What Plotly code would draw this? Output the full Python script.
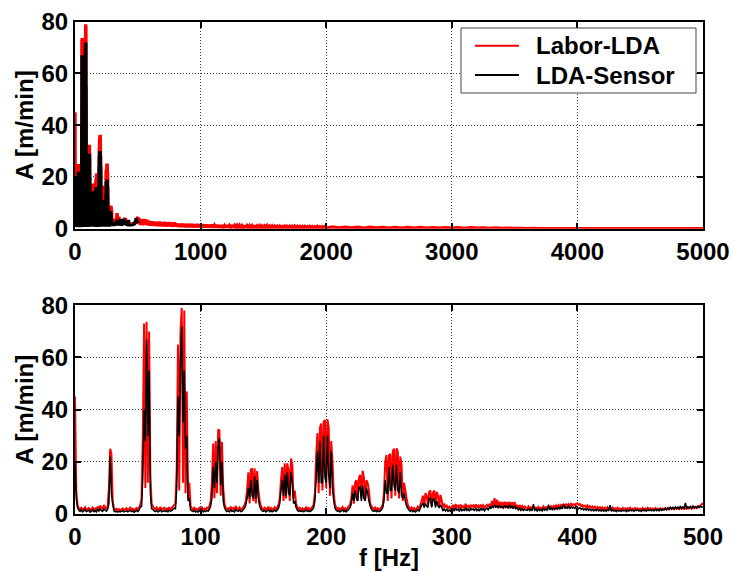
import numpy as np
import plotly.graph_objects as go

# Amplitude spectra, 1 Hz bins from 0 to 500 Hz
labor_lda_0_500 = [
    45, 9, 3.5, 2.2, 1.8, 2.4, 1.6, 2.0, 2.6, 1.5, 1.9, 2.3, 1.4, 1.8, 2.5, 1.7, 2.1, 1.5, 2.8, 2.0,
    3.2, 2.4, 1.8, 3.4, 2.6, 1.9, 3.0, 10, 25, 23, 5, 2.2, 1.6, 2.0, 1.5, 1.9, 1.4, 1.7, 2.1, 1.5,
    1.8, 2.2, 1.5, 1.9, 2.4, 1.6, 2.0, 1.4, 1.8, 2.3, 1.7, 2.5, 3.5, 6, 30, 73, 10, 73.7, 12, 70,
    15, 4, 3, 2.2, 1.8, 2.5, 1.6, 2.0, 2.7, 1.5, 1.9, 2.4, 1.7, 2.1, 1.5, 2.6, 1.8, 2.2, 2.9, 3.5,
    4, 18, 65, 9, 70, 79, 12, 78, 8, 47, 6, 12, 3, 2.2, 1.7, 2.4, 1.6, 2.0, 1.5, 2.3,
    1.8, 2.5, 1.6, 2.1, 1.7, 2.4, 2.0, 3, 5, 12, 27, 6, 28, 8, 32.4, 32, 7, 27.7, 10, 4,
    2.4, 1.7, 2.2, 1.5, 2.8, 1.9, 2.3, 1.6, 3.0, 2.1, 1.8, 2.5, 1.6, 2.0, 2.7, 3.5, 5, 9, 16, 4,
    17, 17.5, 5, 17.5, 4, 16.5, 9, 5, 3, 2.2, 1.8, 2.4, 1.6, 2.1, 2.8, 1.7, 2.3, 1.5, 2.0, 2.6,
    1.9, 2.5, 3.5, 6, 13, 18, 5, 19.4, 6, 19.4, 17, 5, 21.3, 19, 6, 9, 4, 2.6, 1.9, 2.4,
    1.7, 2.2, 1.5, 2.0, 2.6, 1.8, 2.3, 1.6, 2.1, 2.8, 3.5, 8, 22, 31, 8, 33, 34.7, 9, 35.4, 36,
    10, 36.3, 33, 7, 28, 20, 8, 3.5, 2.4, 1.8, 2.3, 1.6, 2.1, 2.7, 1.7, 2.2, 1.5, 2.4, 3.0, 3.6,
    6, 11, 4, 12, 13, 5, 13.7, 15, 6, 16.6, 14, 5, 13, 12, 9, 4, 3, 2.3, 1.8, 2.5,
    1.7, 2.2, 1.6, 2.0, 2.6, 3.5, 8, 20, 22.6, 5, 22.5, 23, 6, 24, 25, 7, 25.2, 23.9, 6, 22,
    18.8, 5, 12, 9, 6, 3.5, 2.4, 1.9, 2.5, 1.7, 2.3, 1.6, 2.1, 2.8, 2.0, 3.5, 5, 7, 3, 8,
    7, 3.5, 8.5, 9, 3, 8, 9, 3.5, 8.5, 7, 3, 7.3, 5, 2.5, 4, 2.5, 3.2, 2.2, 2.8, 2.0,
    2.6, 3.4, 2.2, 3.8, 2.7, 3.2, 2.1, 3.6, 2.5, 3.0, 2.3, 3.9, 2.6, 3.1, 2.2, 3.5, 2.8, 3.3, 2.4, 3.7,
    2.5, 3.2, 2.3, 3.6, 2.7, 3.4, 2.4, 3.0, 3.5, 2.8, 3.9, 2.2, 5.0, 2.5, 6.1, 2.6, 5.5, 2.4, 4.7, 2.3,
    4.6, 2.2, 4.7, 2.4, 4.6, 2.1, 4.7, 2.3, 4.5, 2.0, 4.6, 2.2, 3.2, 2.6, 3.4, 2.4, 3.1, 2.2, 2.9, 2.5,
    2.2, 2.9, 2.0, 2.6, 1.9, 2.8, 2.1, 2.5, 1.8, 2.7, 2.0, 2.4, 1.9, 2.9, 2.2, 2.6, 2.0, 2.8, 2.3, 3.0,
    2.4, 3.1, 2.5, 3.3, 2.6, 3.4, 2.7, 3.5, 2.9, 3.6, 3.0, 3.7, 3.2, 3.8, 3.1, 3.9, 3.3, 3.7, 3.4, 4.0,
    4.1, 3.5, 3.8, 3.0, 3.4, 2.8, 3.2, 2.6, 3.3, 2.5, 3.0, 2.4, 2.9, 2.3, 2.8, 2.2, 2.7, 2.1, 2.6, 2.0,
    2.5, 1.9, 2.4, 1.8, 2.6, 2.0, 2.3, 1.7, 2.5, 1.9, 2.2, 1.6, 2.4, 1.8, 2.1, 1.7, 2.3, 1.9, 2.2, 1.6,
    2.2, 1.7, 2.4, 1.8, 2.1, 1.6, 2.3, 1.9, 2.2, 1.7, 2.0, 1.6, 2.3, 1.8, 2.1, 1.7, 2.4, 1.9, 2.2, 1.8,
    2.1, 1.7, 2.3, 1.8, 2.0, 1.6, 2.2, 1.7, 2.1, 1.8, 2.3, 1.7, 2.2, 1.8, 2.4, 1.9, 2.3, 1.8, 2.5, 2.0,
    2.4, 1.9, 2.6, 2.0, 2.3, 1.9, 2.5, 2.0, 2.4, 2.1, 2.6, 2.0, 2.5, 2.2, 2.7, 2.3, 2.9, 2.6, 3.3, 3.8, 4.0,
]

lda_sensor_0_500 = [
    20, 6, 2.5, 1.4, 1.0, 1.6, 0.8, 1.2, 1.7, 0.9, 1.1, 1.5, 0.7, 1.0, 1.6, 0.9, 1.3, 0.8, 1.8, 1.1,
    1.9, 1.3, 1.0, 2.0, 1.5, 1.1, 1.8, 4, 22, 8, 4, 1.2, 0.8, 1.1, 0.7, 1.0, 0.8, 1.0, 1.2, 0.8,
    1.0, 1.3, 0.8, 1.1, 1.4, 0.9, 1.2, 0.7, 1.0, 1.4, 0.9, 1.6, 2.5, 3, 14, 40, 28, 67, 30, 55,
    8, 2, 1.8, 1.2, 0.9, 1.4, 0.8, 1.1, 1.6, 0.8, 1.0, 1.3, 0.9, 1.2, 0.8, 1.5, 1.0, 1.3, 1.7, 2.2,
    2, 10, 45, 30, 60, 72, 35, 55, 25, 30, 5, 6, 1.6, 1.2, 0.9, 1.4, 0.8, 1.1, 0.7, 1.3,
    1.0, 1.5, 0.8, 1.2, 0.9, 1.4, 1.1, 1.8, 3, 6, 18, 10, 20, 12, 26, 29, 11, 20, 5, 2.5,
    1.4, 0.9, 1.2, 0.8, 1.7, 1.0, 1.3, 0.8, 1.8, 1.2, 1.0, 1.5, 0.9, 1.1, 1.6, 2.3, 3.5, 6, 10, 6,
    13, 7, 6, 14.5, 6, 13, 6, 3, 1.8, 1.2, 1.0, 1.4, 0.8, 1.2, 1.6, 0.9, 1.3, 0.8, 1.1, 1.5,
    1.0, 1.5, 2.2, 4, 9, 13, 7, 15, 7, 16, 8, 7, 16, 12, 4, 5, 2.5, 1.5, 1.0, 1.3,
    0.9, 1.3, 0.8, 1.1, 1.6, 1.0, 1.3, 0.9, 1.2, 1.7, 2.4, 5, 14, 24, 12, 28, 12, 12, 30, 14,
    12, 30, 15, 10, 24, 10, 5, 2.2, 1.4, 1.0, 1.3, 0.8, 1.2, 1.6, 0.9, 1.3, 0.8, 1.4, 1.8, 2.4,
    4, 8, 5, 9, 6, 5, 10, 10.5, 5, 11, 6, 5, 10, 8, 5, 3, 1.8, 1.2, 1.0, 1.4,
    0.9, 1.3, 0.9, 1.1, 1.6, 2.4, 5, 13, 8, 8, 18, 9, 9, 18.8, 11, 9, 19, 9, 8, 16,
    7, 6, 8, 5, 3, 2.2, 1.4, 1.0, 1.5, 0.9, 1.3, 0.8, 1.2, 1.7, 1.1, 2.2, 3.5, 4, 2.5, 4,
    3, 2.5, 6, 6, 2.5, 5.5, 6, 2.5, 5, 3, 2.5, 3.5, 2.5, 1.2, 2, 1.2, 1.8, 1.0, 1.5, 1.0,
    1.4, 2.0, 1.1, 2.4, 1.5, 1.9, 1.0, 2.2, 1.3, 1.8, 1.2, 2.5, 1.4, 1.9, 1.1, 2.1, 1.6, 2.0, 1.2, 2.3,
    1.3, 1.9, 1.1, 2.2, 1.5, 2.1, 1.2, 1.8, 2.3, 1.6, 2.6, 2.2, 3.0, 2.5, 3.4, 2.6, 3.0, 2.4, 3.2, 2.6,
    2.8, 2.3, 3.3, 2.5, 3.0, 2.2, 3.5, 2.4, 2.9, 2.1, 3.1, 2.0, 2.4, 1.6, 2.2, 1.4, 2.0, 1.3, 1.9, 1.5,
    1.4, 2.2, 1.3, 1.9, 1.2, 3.8, 1.4, 1.8, 1.1, 2.0, 1.3, 1.7, 1.2, 2.1, 1.5, 1.9, 1.3, 3.6, 1.6, 2.2,
    1.6, 2.3, 1.7, 2.4, 1.8, 2.5, 1.9, 2.6, 2.0, 3.9, 2.1, 2.7, 2.2, 2.9, 2.0, 2.8, 2.3, 2.6, 2.1, 3.0,
    2.6, 2.0, 2.4, 1.8, 2.2, 1.6, 2.0, 1.5, 2.1, 1.4, 1.9, 1.3, 1.8, 1.2, 1.7, 1.3, 1.8, 1.2, 1.6, 1.1,
    1.6, 1.1, 1.5, 1.0, 1.7, 1.2, 3.4, 1.0, 1.6, 1.1, 1.4, 0.9, 1.5, 1.1, 1.3, 1.0, 1.5, 1.2, 1.4, 0.9,
    1.5, 1.1, 1.7, 1.2, 1.5, 1.0, 1.6, 1.3, 1.6, 1.1, 1.4, 1.0, 1.7, 1.2, 1.5, 1.1, 1.8, 1.3, 1.6, 1.2,
    1.6, 1.2, 1.8, 1.3, 1.7, 1.2, 1.9, 1.4, 1.8, 1.5, 2.1, 1.6, 2.4, 1.8, 2.6, 2.0, 2.5, 1.9, 2.7, 2.1,
    2.6, 2.0, 3.0, 2.1, 2.7, 2.2, 4.2, 2.1, 2.8, 2.3, 2.9, 2.2, 3.1, 2.4, 2.8, 2.3, 3.0, 2.5, 2.9, 2.6, 2.8,
]

# Labor-LDA above 500 Hz: 10 Hz bins up to 2000 Hz, then 50 Hz bins up to 5000 Hz
labor_lda_510_2000 = [
    3.7, 1.5, 3.6, 1.4, 3.7, 1.6, 3.5, 1.3, 3.0, 1.2,
    2.8, 1.1, 2.7, 1.2, 2.6, 1.0, 2.7, 1.1, 2.5, 1.0,
    2.6, 0.9, 2.4, 1.0, 2.5, 0.9, 2.3, 0.8, 2.4, 0.9,
    1.9, 0.8, 1.8, 0.7, 1.9, 0.8, 1.7, 0.7, 1.8, 0.6,
    1.7, 0.7, 1.8, 0.6, 1.6, 0.7, 1.7, 0.6, 1.6, 0.6,
    1.5, 0.6, 1.6, 0.5, 1.5, 0.6, 1.4, 0.5, 1.5, 0.5,
    1.3, 0.5, 1.4, 0.5, 1.3, 0.4, 1.3, 0.5, 1.2, 0.4,
    1.3, 0.4, 1.2, 0.5, 1.3, 0.4, 1.2, 0.4, 1.2, 0.4,
    1.2, 0.4, 1.1, 0.4, 1.2, 0.3, 1.1, 0.4, 1.1, 0.3,
    1.1, 0.4, 1.2, 0.3, 1.0, 0.4, 1.1, 0.3, 1.0, 0.3,
    1.0, 0.3, 1.1, 0.3, 0.9, 0.3, 1.0, 0.3, 0.9, 0.3,
    0.9, 0.3, 0.9, 0.3, 0.8, 0.3, 0.9, 0.2, 0.8, 0.3,
    0.9, 0.3, 0.8, 0.2, 0.9, 0.3, 0.8, 0.2, 0.8, 0.2,
    0.8, 0.2, 0.8, 0.3, 0.7, 0.2, 0.8, 0.2, 0.7, 0.2,
    0.7, 0.2, 0.8, 0.2, 0.7, 0.2, 0.7, 0.2, 0.7, 0.2,
]
labor_lda_2050_5000 = [
    0.7, 0.3, 0.6, 0.3, 0.6, 0.2, 0.6, 0.3, 0.5, 0.2,
    0.5, 0.2, 0.5, 0.2, 0.5, 0.2, 0.4, 0.2, 0.4, 0.2,
    0.4, 0.1, 0.4, 0.2, 0.3, 0.1, 0.3, 0.1, 0.2, 0.1,
    0.1, 0.0, 0.1, 0.0, 0.0, 0.0, 0.0, 0.0, 0.0, 0.0,
    0.0, 0.0, 0.0, 0.0, 0.0, 0.0, 0.0, 0.0, 0.0, 0.0,
    0.0, 0.0, 0.0, 0.0, 0.0, 0.0, 0.0, 0.0, 0.0, 0.0,
]

series_names = ["Labor-LDA", "LDA-Sensor"]
series_colors = ["#ff0000", "#000000"]
x_ticks_full = [0, 1000, 2000, 3000, 4000, 5000]
x_ticks_zoom = [0, 100, 200, 300, 400, 500]
y_ticks = [0, 20, 40, 60, 80]

f_sensor = np.arange(0, 501, 1)
f_labor = np.concatenate([
    np.arange(0, 501, 1),
    np.arange(510, 2001, 10),
    np.arange(2050, 5001, 50),
])
a_labor = np.array(labor_lda_0_500 + labor_lda_510_2000 + labor_lda_2050_5000)
a_sensor = np.array(lda_sensor_0_500)

FONT = dict(family="Liberation Sans, Arial, sans-serif", size=24, color="black", weight="bold")
# stroke widths (red, black): the compressed 0-5000 Hz view uses heavier strokes
widths_full = [3.4, 3.6]
widths_zoom = [2.0, 1.5]

fig = go.Figure()
for xa, ya, lw in [("x", "y", widths_full), ("x2", "y2", widths_zoom)]:
    fig.add_trace(go.Scatter(x=f_labor, y=a_labor, mode="lines", name=series_names[0],
                             line=dict(color=series_colors[0], width=lw[0], simplify=False),
                             xaxis=xa, yaxis=ya, showlegend=False))
    fig.add_trace(go.Scatter(x=f_sensor, y=a_sensor, mode="lines", name=series_names[1],
                             line=dict(color=series_colors[1], width=lw[1], simplify=False),
                             xaxis=xa, yaxis=ya, showlegend=False))

axis_style = dict(
    showline=True, linecolor="black", linewidth=2, mirror="ticks",
    ticks="inside", ticklen=6, tickwidth=2, tickcolor="black",
    showgrid=True, gridcolor="rgb(60,60,60)", gridwidth=1, griddash="1px,2px",
    zeroline=False, tickfont=FONT, automargin=False,
)

W, H = 733, 571
x_dom = [75 / W, 703 / W]

# Legend box in the upper subplot, drawn as a framed key
legend_box = dict(x0=461 / W, x1=696 / W, y0=1 - 93 / H, y1=1 - 28 / H)
legend_rows = [1 - 45.7 / H, 1 - 75 / H]
shapes = [dict(type="rect", xref="paper", yref="paper", **legend_box,
               line=dict(color="rgb(70,70,70)", width=1), fillcolor="white", layer="above")]
annotations = []
for name, color, yr in zip(series_names, series_colors, legend_rows):
    shapes.append(dict(type="line", xref="paper", yref="paper",
                       x0=475 / W, x1=519 / W, y0=yr, y1=yr,
                       line=dict(color=color, width=2), layer="above"))
    annotations.append(dict(xref="paper", yref="paper", x=534 / W, y=yr,
                            xanchor="left", yanchor="middle", text=name,
                            showarrow=False, font=FONT))

fig.update_layout(
    width=W, height=H, autosize=False,
    margin=dict(l=0, r=0, t=0, b=0),
    paper_bgcolor="white", plot_bgcolor="white",
    font=FONT, showlegend=False,
    xaxis=dict(axis_style, domain=x_dom, anchor="y", range=[0, 5000],
               tickvals=x_ticks_full),
    yaxis=dict(axis_style, domain=[1 - 228.7 / H, 1 - 21.7 / H], anchor="x",
               range=[0, 80], tickvals=y_ticks,
               title=dict(text="A [m/min]", font=FONT, standoff=1)),
    xaxis2=dict(axis_style, domain=x_dom, anchor="y2", range=[0, 500],
                tickvals=x_ticks_zoom,
                title=dict(text="f [Hz]", font=FONT, standoff=4)),
    yaxis2=dict(axis_style, domain=[1 - 514 / H, 1 - 305.3 / H], anchor="x2",
                range=[0, 80], tickvals=y_ticks,
                title=dict(text="A [m/min]", font=FONT, standoff=1)),
    shapes=shapes,
    annotations=annotations,
)

fig.write_html("out.html")
